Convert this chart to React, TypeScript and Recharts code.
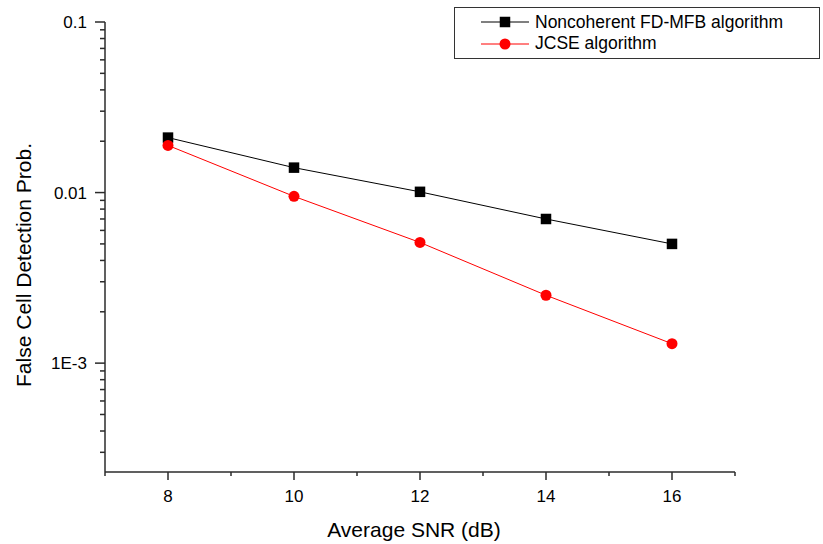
import React from 'react';
import { LineChart, Line, XAxis, YAxis } from 'recharts';

const snr = [8, 10, 12, 14, 16];
const fdMfb = [0.021, 0.014, 0.0101, 0.007, 0.005];
const jcse = [0.0189, 0.0095, 0.0051, 0.0025, 0.0013];

const xTicks = [7, 8, 9, 10, 11, 12, 13, 14, 15, 16, 17];
const xLabelled = [8, 10, 12, 14, 16];

const yMajor = [0.001, 0.01, 0.1];
const yMajorLabels = ['1E-3', '0.01', '0.1'];
const yMinor = [
  0.0003, 0.0004, 0.0005, 0.0006, 0.0007, 0.0008, 0.0009,
  0.002, 0.003, 0.004, 0.005, 0.006, 0.007, 0.008, 0.009,
  0.02, 0.03, 0.04, 0.05, 0.06, 0.07, 0.08, 0.09,
];

const data = snr.map((s, i) => ({ snr: s, fd: fdMfb[i], jcse: jcse[i] }));

const FONT = '"Liberation Sans", Arial, Helvetica, sans-serif';
const AXIS = '#2b2b2b';

const YTick = (props: any) => {
  const { x, y, payload } = props;
  const i = yMajor.indexOf(payload.value);
  const major = i >= 0;
  return (
    <g>
      <line x1={x} x2={x - (major ? 10 : 5)} y1={y} y2={y} stroke={AXIS} strokeWidth={1.5} />
      {major && (
        <text x={x - 18} y={y} dy="0.36em" textAnchor="end" fontSize={17} fill="#000" fontFamily={FONT}>
          {yMajorLabels[i]}
        </text>
      )}
    </g>
  );
};

const XTick = (props: any) => {
  const { x, y, payload } = props;
  const major = xLabelled.includes(payload.value);
  return (
    <g>
      <line x1={x} x2={x} y1={y} y2={y + (major ? 8 : 4)} stroke={AXIS} strokeWidth={1.5} />
      {major && (
        <text x={x} y={y + 30} textAnchor="middle" fontSize={17} fill="#000" fontFamily={FONT}>
          {payload.value}
        </text>
      )}
    </g>
  );
};

const XLabel = (props: any) => {
  const { viewBox } = props;
  return (
    <text x={viewBox.x + viewBox.width / 2 - 6} y={537} textAnchor="middle" fontSize={21} fill="#000" fontFamily={FONT}>
      Average SNR (dB)
    </text>
  );
};

const YLabel = (props: any) => {
  const { viewBox } = props;
  const cy = viewBox.y + viewBox.height / 2 + 18;
  return (
    <text x={31} y={cy} transform={`rotate(-90, 31, ${cy})`} textAnchor="middle" fontSize={21} fill="#000" fontFamily={FONT}>
      False Cell Detection Prob.
    </text>
  );
};

const Square = (props: any) => {
  const { cx, cy } = props;
  if (cx == null || cy == null) return null;
  return <rect x={cx - 5.25} y={cy - 5.25} width={10.5} height={10.5} fill="#000" />;
};

const legendItems = [
  { name: 'Noncoherent FD-MFB algorithm', color: '#000000', shape: 'square' },
  { name: 'JCSE algorithm', color: '#ff0000', shape: 'circle' },
];

export default function App() {
  return (
    <div style={{ position: 'absolute', left: 0, top: 0, width: 823, height: 544, background: '#fff', fontFamily: FONT }}>
      <LineChart width={823} height={544} data={data} margin={{ top: 22, right: 88, left: 0, bottom: 0 }}>
        <XAxis
          dataKey="snr"
          type="number"
          domain={[7, 17]}
          ticks={xTicks}
          interval={0}
          tickSize={0}
          tickMargin={0}
          tickLine={false}
          tick={<XTick />}
          height={72}
          axisLine={{ stroke: AXIS, strokeWidth: 1.5 }}
          label={<XLabel />}
        />
        <YAxis
          scale="log"
          type="number"
          domain={[0.00023, 0.1]}
          allowDataOverflow
          ticks={[...yMinor, ...yMajor]}
          interval={0}
          tickSize={0}
          tickMargin={0}
          tickLine={false}
          tick={<YTick />}
          width={105}
          axisLine={{ stroke: AXIS, strokeWidth: 1.5 }}
          label={<YLabel />}
        />
        <Line
          dataKey="fd"
          stroke="#000"
          strokeWidth={1}
          dot={<Square />}
          activeDot={false}
          isAnimationActive={false}
        />
        <Line
          dataKey="jcse"
          stroke="#ff0000"
          strokeWidth={1}
          dot={{ r: 5.5, fill: '#ff0000', stroke: '#ff0000', strokeWidth: 0 }}
          activeDot={false}
          isAnimationActive={false}
        />
      </LineChart>
      <div
        style={{
          position: 'absolute',
          left: 454,
          top: 7,
          width: 366,
          height: 52,
          boxSizing: 'border-box',
          border: '1px solid #333',
          background: '#fff',
        }}
      >
        {legendItems.map((item, i) => (
          <div
            key={item.name}
            style={{
              position: 'absolute',
              left: 26,
              top: 3 + i * 21.5,
              height: 22,
              display: 'flex',
              alignItems: 'center',
              whiteSpace: 'nowrap',
            }}
          >
            <svg width={48} height={22} style={{ marginRight: 6 }}>
              <line x1={0} x2={48} y1={11} y2={11} stroke={item.color} strokeWidth={1} />
              {item.shape === 'square' ? (
                <rect x={18.75} y={5.75} width={10.5} height={10.5} fill={item.color} />
              ) : (
                <circle cx={24} cy={11} r={5.5} fill={item.color} />
              )}
            </svg>
            <span style={{ fontSize: 17.5, color: '#000' }}>{item.name}</span>
          </div>
        ))}
      </div>
    </div>
  );
}
